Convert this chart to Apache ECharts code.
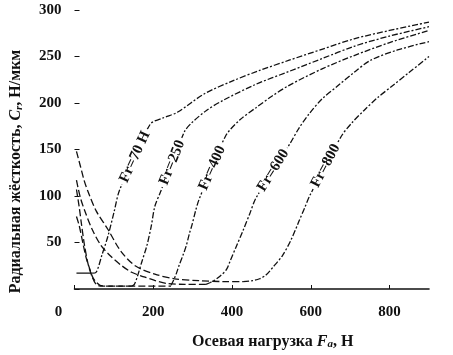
<!DOCTYPE html>
<html>
<head>
<meta charset="utf-8">
<script src="https://cdn.jsdelivr.net/npm/echarts@6/dist/echarts.min.js"></script>
<style>
  html, body { margin: 0; padding: 0; background: #fff; }
  #chart { width: 453px; height: 355px; }
</style>
</head>
<body>
<div id="chart"></div>
<script>
// axes
const xTicks = [0, 200, 400, 600, 800]
const yTicks = [0, 50, 100, 150, 200, 250, 300]

// descending branches (Fa, Cr)
const fall70 = [[5, 17], [45, 17]]
const fall250 = [[5, 78], [12, 68], [22, 48], [30, 33], [40, 20], [47, 12], [56, 7], [65, 4], [90, 3], [120, 3], [145, 3]]
const fall400 = [[5, 107], [12, 88], [17, 72], [25, 48], [35, 26], [45, 13], [55, 5], [70, 3], [150, 3], [245, 3]]
const fall600 = [[5, 117], [15, 98], [27, 83], [45, 64], [67, 47], [90, 36], [117, 26], [145, 18], [177, 13], [205, 9], [234, 6], [280, 5], [334, 5]]
const fall800 = [[5, 148], [15, 132], [25, 116], [35, 104], [55, 84], [85, 64], [117, 41], [154, 25], [204, 16], [254, 11], [316, 9], [383, 8], [428, 8]]

// rising branches (Fa, Cr)
const rise70 = [[45, 17], [55, 18], [70, 37], [85, 57], [100, 82], [115, 107], [192, 177], [225, 184], [261, 190], [330, 210], [403, 224], [470, 235], [545, 246], [630, 258], [710, 269], [800, 278], [900, 287]]
const rise250 = [[145, 3], [152, 5], [160, 14], [170, 28], [184, 47], [195, 68], [204, 89], [217, 103], [279, 169], [296, 178], [335, 192], [378, 203], [460, 220], [545, 234], [630, 248], [710, 261], [800, 272], [900, 282]]
const rise400 = [[245, 4], [250, 8], [258, 16], [266, 26], [276, 37], [284, 47], [292, 60], [299, 70], [308, 85], [316, 96], [383, 164], [420, 182], [461, 195], [500, 207], [545, 219], [630, 237], [710, 251], [800, 265], [900, 278]]
const rise600 = [[334, 5], [345, 7], [354, 9], [370, 14], [386, 21], [396, 31], [410, 45], [428, 63], [445, 81], [461, 98], [548, 157], [570, 173], [595, 188], [630, 205], [670, 219], [710, 233], [752, 246], [820, 257], [900, 266]]
const rise800 = [[428, 8], [453, 9], [470, 11], [486, 15], [505, 24], [528, 36], [550, 53], [570, 73], [585, 88], [598, 101], [677, 164], [705, 179], [735, 192], [770, 206], [809, 219], [850, 233], [900, 250]]

const curveNames = ['Fr=70 Н', 'Fr=250', 'Fr=400', 'Fr=600', 'Fr=800']
const falls = [fall70, fall250, fall400, fall600, fall800]
const rises = [rise70, rise250, rise400, rise600, rise800]
const labelAfter = [5, 7, 9, 9, 9] // label sits between this point and the next one
const labelRotate = [65, 68, 66, 58, 62]

const serif = '"Liberation Serif", "DejaVu Serif", serif'
const ink = '#111'

const series = []
falls.forEach((d, i) => {
  series.push({
    type: 'line',
    data: d,
    symbol: 'none',
    smooth: 0.3,
    lineStyle: { color: ink, width: 1.3, type: i === 0 ? 'solid' : [7, 3] },
    z: 2,
  })
})
rises.forEach((d, i) => {
  const a = d[labelAfter[i]]
  const b = d[labelAfter[i] + 1]
  series.push({
    type: 'line',
    data: d,
    symbol: 'none',
    smooth: 0.3,
    lineStyle: { color: ink, width: 1.3, type: [6, 2, 2, 2] },
    z: 3,
    markPoint: {
      symbol: 'circle',
      symbolSize: 1,
      itemStyle: { color: 'rgba(0,0,0,0)' },
      data: [{
        coord: [(a[0] + b[0]) / 2, (a[1] + b[1]) / 2],
        label: {
          show: true,
          position: 'inside',
          formatter: curveNames[i],
          rotate: labelRotate[i],
          color: ink,
          fontFamily: serif,
          fontWeight: 'bold',
          fontSize: 15,
          backgroundColor: '#fff',
          padding: [0, 3],
        },
      }],
    },
  })
})

const chart = echarts.init(document.getElementById('chart'))
chart.setOption({
  animation: false,
  backgroundColor: '#fff',
  grid: { left: 68, right: 24, top: 10, bottom: 58 },
  xAxis: {
    type: 'value',
    min: xTicks[0],
    max: 900,
    interval: xTicks[1] - xTicks[0],
    name: 'Осевая нагрузка {i|F}{s|a}, Н',
    nameLocation: 'middle',
    nameGap: 44,
    nameTextStyle: {
      color: ink, fontFamily: serif, fontWeight: 'bold', fontSize: 16,
      padding: [0, 0, 0, 42],
      rich: {
        i: { fontStyle: 'italic', fontFamily: serif, fontWeight: 'bold', fontSize: 16, color: ink },
        s: { fontStyle: 'italic', fontFamily: serif, fontWeight: 'bold', fontSize: 11, color: ink, verticalAlign: 'bottom', padding: [6, 0, 0, 0] },
      },
    },
    axisLine: { lineStyle: { color: ink, width: 1.6 } },
    axisTick: { inside: true, length: 4, lineStyle: { color: ink }, interval: (idx, v) => v === 800 },
    splitLine: { show: false },
    axisLabel: {
      margin: 16,
      color: ink, fontFamily: serif, fontWeight: 'bold', fontSize: 15,
      showMaxLabel: false,
      formatter: (v) => (v === 0 ? '{z|0}' : (xTicks.includes(v) ? String(v) : '')),
      rich: {
        z: { padding: [0, 32, 0, 0], color: ink, fontFamily: serif, fontWeight: 'bold', fontSize: 15 },
      },
    },
  },
  yAxis: {
    type: 'value',
    min: yTicks[0],
    max: yTicks[yTicks.length - 1],
    interval: yTicks[1] - yTicks[0],
    name: 'Радиальная жёсткость, {i|C}{s|r}, Н/мкм',
    nameLocation: 'middle',
    nameGap: 50,
    nameRotate: 90,
    nameTextStyle: {
      color: ink, fontFamily: serif, fontWeight: 'bold', fontSize: 16,
      padding: [0, 44, 0, 0],
      rich: {
        i: { fontStyle: 'italic', fontFamily: serif, fontWeight: 'bold', fontSize: 16, color: ink },
        s: { fontStyle: 'italic', fontFamily: serif, fontWeight: 'bold', fontSize: 11, color: ink, verticalAlign: 'bottom', padding: [6, 0, 0, 0] },
      },
    },
    axisLine: { show: false },
    axisTick: { inside: true, length: 5, lineStyle: { color: ink } },
    splitLine: { show: false },
    axisLabel: {
      margin: 13,
      color: ink, fontFamily: serif, fontWeight: 'bold', fontSize: 15,
      formatter: (v) => (v === 0 ? '' : String(v)),
    },
  },
  series,
})
</script>
</body>
</html>
